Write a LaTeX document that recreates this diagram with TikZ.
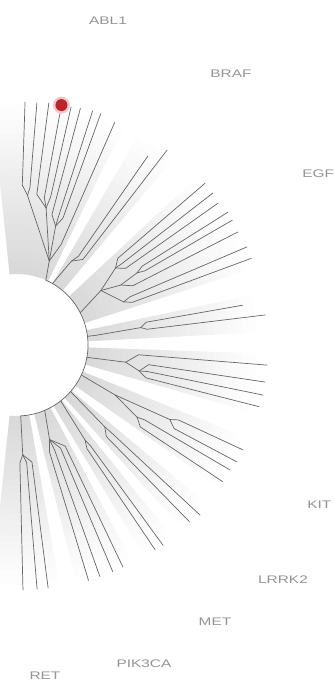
\documentclass[tikz,border=0pt]{standalone}
\usepackage{fontspec}
\setmainfont{Liberation Sans}
\definecolor{dotred}{HTML}{C0222C}
\tikzset{
  br/.style={draw=black!60, line width=0.7pt, line join=round, line cap=round},
  gene/.style={text=black!42, font=\fontsize{11}{13}\selectfont, xscale=1.4, inner sep=0pt},
}
% stepped radial fade inside a wedge from angle #1 to #2
\newcommand\wedgeshade[2]{%
  \foreach \i in {0,...,23}{%
    \pgfmathsetmacro\ra{71+\i*7}%
    \pgfmathsetmacro\rb{\ra+7.6}%
    \pgfmathsetmacro\lvl{15*(1-\i/24)}%
    \fill[black!\lvl] (#1:\ra) arc[start angle=#1, end angle=#2, radius=\ra]
      -- (#2:\rb) arc[start angle=#2, end angle=#1, radius=\rb] -- cycle;
  }}
% leaf: from parent coordinate #1 to a kink at angle #2 radius #3, then radially to radius #4
\newcommand\leafline[4]{\draw[br] (#1) -- (#2:#3) -- (#2:#4);}
\begin{document}
\begin{tikzpicture}[x=1pt,y=1pt]
\useasboundingbox (0,0) rectangle (333,681);
\fill[white] (0,0) rectangle (333,681);
\begin{scope}[shift={(17,336)}]
  % shaded wedges
  \wedgeshade{64}{96}
  \wedgeshade{50}{60}
  \wedgeshade{18}{43}
  \wedgeshade{3}{12}
  \wedgeshade{-16}{-2}
  \wedgeshade{-35}{-22}
  \wedgeshade{-48}{-40}
  \wedgeshade{-59}{-51}
  \wedgeshade{-76}{-62}
  \wedgeshade{-96}{-80}
  % inner arc
  \draw[br] (66:71) arc[start angle=66, end angle=-87, radius=71];
  % ---- group 1
  \coordinate (g1) at (69:90);
  \draw[br] (66:71) -- (g1);
  \coordinate (g1a) at (86:150);
  \coordinate (g1b) at (78:140);
  \coordinate (g1c) at (72:125);
  \draw[br] (g1) -- (g1a);
  \draw[br] (g1) -- (g1b);
  \draw[br] (g1) -- (g1c);
  \leafline{g1a}{88.1}{160}{243}
  \leafline{g1a}{85.3}{158}{243}
  \leafline{g1b}{82.5}{152}{244}
  \leafline{g1b}{79.5}{150}{244}
  \leafline{g1b}{77.2}{152}{244}
  \leafline{g1c}{75}{135}{245}
  \leafline{g1c}{72.1}{135}{246}
  \leafline{g1c}{70.1}{135}{246}
  \leafline{g1}{66.3}{110}{243}
  % ---- group 2
  \coordinate (g2) at (57:100);
  \draw[br] (60:71) -- (g2);
  \leafline{g2}{55.3}{108}{230}
  \leafline{g2}{52.4}{108}{246}
  % ---- group 3
  \coordinate (g3) at (33:100);
  \coordinate (g3p) at (38:125);
  \coordinate (g3q) at (30:120);
  \coordinate (g3r) at (31:140);
  \coordinate (g3s) at (22:115);
  \draw[br] (27:71) -- (g3);
  \draw[br] (g3) -- (g3p);
  \draw[br] (g3) -- (g3q);
  \draw[br] (g3q) -- (g3r);
  \draw[br] (g3) -- (g3s);
  \leafline{g3p}{40.7}{133}{248}
  \leafline{g3p}{37.8}{133}{248}
  \leafline{g3p}{35.2}{133}{246}
  \leafline{g3r}{32.2}{148}{249}
  \leafline{g3r}{30.1}{148}{249}
  \leafline{g3q}{27.1}{130}{248}
  \leafline{g3s}{23.1}{123}{250}
  \leafline{g3s}{20.3}{123}{250}
  % ---- group 4
  \coordinate (g4) at (8:125);
  \draw[br] (7:71) -- (7:80) -- (g4);
  \leafline{g4}{10}{131}{229}
  \leafline{g4}{6.9}{131}{250}
  % ---- group 5
  \coordinate (g5) at (-9:110);
  \coordinate (g5b) at (-12:125);
  \draw[br] (-10:71) -- (g5);
  \draw[br] (g5) -- (g5b);
  \leafline{g5}{-4.6}{122}{251}
  \leafline{g5b}{-8.5}{133}{251}
  \leafline{g5b}{-11.5}{133}{251}
  \leafline{g5b}{-14.3}{133}{250}
  % ---- group 6
  \coordinate (g6) at (-27:110);
  \coordinate (g6a) at (-26:170);
  \coordinate (g6b) at (-31:140);
  \draw[br] (-25:71) -- (g6);
  \draw[br] (g6) -- (g6a);
  \draw[br] (g6) -- (g6b);
  \leafline{g6a}{-24.9}{178}{249}
  \leafline{g6a}{-28.0}{178}{249}
  \leafline{g6b}{-30.4}{148}{247}
  \leafline{g6b}{-33.6}{148}{247}
  % ---- group 7
  \coordinate (g7) at (-43:120);
  \draw[br] (-41:71) -- (g7);
  \leafline{g7}{-42.9}{128}{250}
  \leafline{g7}{-45.7}{128}{247}
  % ---- group 8
  \coordinate (g8) at (-54.4:117);
  \draw[br] (-52:71) -- (g8);
  \leafline{g8}{-53.9}{125}{248}
  \leafline{g8}{-56.0}{125}{247}
  % ---- group 9
  \coordinate (g9) at (-71:100);
  \draw[br] (-67:71) -- (g9);
  \leafline{g9}{-64.5}{112}{246}
  \leafline{g9}{-67.1}{112}{246}
  \leafline{g9}{-70.3}{112}{246}
  \leafline{g9}{-73.1}{112}{246}
  % ---- group 10
  \coordinate (g10) at (-87:110);
  \draw[br] (-87:71) -- (g10);
  \leafline{g10}{-82.7}{118}{245}
  \leafline{g10}{-85.3}{118}{245}
  \leafline{g10}{-88.6}{118}{245}
  % red marker
  \fill[dotred!25] (79.5:244) circle[radius=8.5];
  \fill[dotred] (79.5:244) circle[radius=6];
\end{scope}
% gene labels
\node[gene] (abl) at (108,660) {ABL1};
\node[gene] (braf) at (231,607) {BRAF};
\node[gene, anchor=west] (egf) at (302,507) {EGF};
\node[gene, anchor=west] (kit) at (307,176) {KIT};
\node[gene] (lrrk) at (283,101) {LRRK2};
\node[gene] (met) at (215,59) {MET};
\node[gene] (pik) at (144,17) {PIK3CA};
\node[gene] (ret) at (45,5) {RET};
\end{tikzpicture}
\end{document}
